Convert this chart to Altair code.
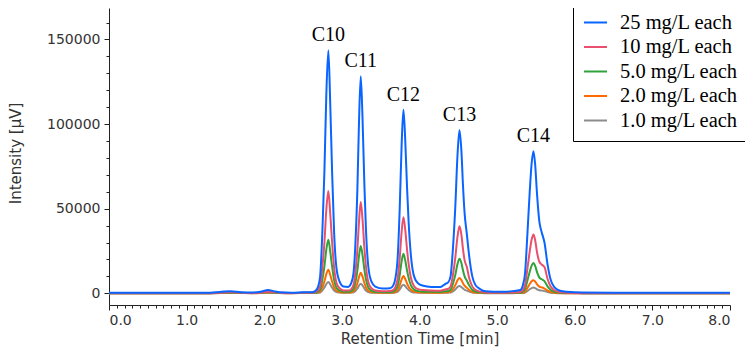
import altair as alt
import pandas as pd

# Retention time grid (min)
times = [0.00, 0.50, 1.00, 1.30, 1.45, 1.56, 1.70, 1.85, 1.95, 2.05,
         2.12, 2.20, 2.35, 2.50, 2.62, 2.66, 2.69, 2.72, 2.75, 2.775,
         2.80, 2.826, 2.85, 2.874, 2.90, 2.93, 2.97, 3.02, 3.08, 3.12,
         3.15, 3.175, 3.20, 3.22, 3.243, 3.265, 3.29, 3.31, 3.34, 3.38,
         3.43, 3.53, 3.62, 3.66, 3.69, 3.72, 3.745, 3.77, 3.793, 3.815,
         3.84, 3.86, 3.89, 3.93, 3.98, 4.05, 4.15, 4.27, 4.33, 4.37,
         4.40, 4.43, 4.46, 4.49, 4.515, 4.54, 4.56, 4.58, 4.61, 4.64,
         4.68, 4.72, 4.78, 4.85, 4.95, 5.10, 5.20, 5.30, 5.33, 5.36,
         5.39, 5.42, 5.445, 5.468, 5.49, 5.515, 5.545, 5.575, 5.61, 5.65,
         5.69, 5.74, 5.81, 5.90, 6.10, 6.50, 7.00, 7.50, 8.00]

# Intensities (µV) per standard concentration
v25 = [300, 300, 300, 400, 900, 1200, 700, 500, 900, 2000,
       1300, 600, 400, 600, 700, 1500, 3500, 10000, 38000, 72000,
       118000, 143600, 112000, 72000, 36000, 15000, 7000, 4000, 3800, 6000,
       12000, 30000, 62000, 100000, 128200, 105000, 64000, 38000, 16000, 7000,
       4000, 2800, 3000, 4500, 9000, 22000, 50000, 88000, 108500, 92000,
       62000, 42000, 22000, 10000, 6000, 4500, 3800, 3700, 5500, 6500,
       10000, 26000, 50000, 82000, 96300, 84000, 64000, 48000, 35000, 22000,
       10000, 5000, 2500, 1200, 1000, 1000, 1300, 2000, 4500, 12000,
       35000, 60000, 77000, 84000, 76000, 58000, 42000, 36000, 30000, 17000,
       8000, 3500, 1500, 900, 500, 400, 400, 400, 400]
v10 = [0, 0, 0, 100, 400, 600, 300, 200, 400, 1000,
       600, 300, 200, 300, 400, 700, 1600, 4200, 16000, 30000,
       49700, 60500, 47200, 30300, 15200, 6300, 3000, 1700, 1600, 2500,
       5000, 12600, 26100, 42100, 54000, 44200, 27000, 16000, 6700, 3000,
       1700, 1200, 1300, 1900, 3700, 9100, 20700, 36500, 45000, 38200,
       25700, 17400, 9100, 4200, 2500, 1900, 1600, 1500, 2300, 2700,
       4100, 10700, 20600, 33700, 39600, 34500, 26300, 19800, 15500, 9000,
       4100, 2100, 1000, 500, 400, 400, 500, 800, 1800, 4900,
       14500, 24800, 31800, 34700, 31400, 24000, 18500, 17000, 15500, 8500,
       4000, 1700, 700, 400, 100, 0, 0, 0, 0]
v5 = [0, 0, 0, 100, 300, 400, 200, 200, 300, 700,
      400, 200, 200, 300, 300, 400, 900, 2200, 8400, 15900,
      26000, 31700, 24700, 15900, 7900, 3300, 1600, 1000, 900, 1300,
      2600, 6500, 13500, 21800, 28000, 22900, 14000, 8300, 3500, 1600,
      900, 700, 700, 1000, 2000, 4700, 10800, 19000, 23400, 19800,
      13400, 9100, 4700, 2200, 1300, 1000, 900, 800, 1200, 1400,
      2100, 5500, 10600, 17400, 20500, 17900, 13600, 10200, 7500, 4700,
      2100, 1100, 600, 300, 300, 300, 300, 400, 1000, 2600,
      7500, 12800, 16400, 17900, 16200, 12400, 9300, 8300, 7200, 4100,
      2000, 900, 400, 200, 100, 0, 0, 0, 0]
v2 = [0, 0, 0, 100, 200, 300, 200, 100, 200, 500,
      300, 200, 100, 200, 300, 300, 500, 1000, 3700, 7000,
      11500, 14000, 10900, 7000, 3500, 1500, 800, 500, 500, 600,
      1200, 2900, 5900, 9500, 12200, 10000, 6100, 3600, 1500, 700,
      500, 400, 400, 500, 900, 2100, 4700, 8300, 10200, 8600,
      5800, 3900, 2100, 1000, 600, 500, 400, 400, 600, 700,
      1000, 2400, 4700, 7700, 9000, 7800, 6000, 4500, 3300, 2000,
      900, 500, 300, 200, 200, 200, 200, 300, 400, 1100,
      3200, 5500, 7100, 7700, 7000, 5300, 4000, 3500, 2800, 1600,
      800, 400, 200, 100, 100, 0, 0, 0, 0]
v1 = [0, 0, 0, 100, 200, 300, 200, 100, 200, 400,
      300, 200, 100, 200, 300, 300, 300, 500, 1800, 3400,
      5500, 6700, 5200, 3400, 1700, 800, 500, 300, 300, 400,
      600, 1400, 2800, 4500, 5700, 4700, 2900, 1700, 800, 400,
      300, 300, 300, 300, 500, 1000, 2300, 4100, 5100, 4300,
      2900, 2000, 1000, 500, 400, 300, 300, 300, 300, 400,
      500, 1200, 2200, 3700, 4300, 3700, 2900, 2100, 1600, 1000,
      500, 300, 200, 100, 100, 100, 100, 200, 200, 500,
      1400, 2400, 3100, 3400, 3100, 2300, 1800, 1600, 1300, 800,
      400, 200, 100, 100, 0, 0, 0, 0, 0]

series_names = ["25 mg/L each", "10 mg/L each", "5.0 mg/L each",
                "2.0 mg/L each", "1.0 mg/L each"]
series_colors = ["#0a64ff", "#e8506e", "#2ea33a", "#ff6a00", "#8c8c8c"]

peak_names = ["C10", "C11", "C12", "C13", "C14"]
peak_times = [2.826, 3.243, 3.793, 4.515, 5.468]
peak_heights = [143600, 128200, 108500, 96300, 84000]

series_values = [v25, v10, v5, v2, v1]
for vals in series_values:
    assert len(vals) == len(times)

rows = []
for name, vals in zip(series_names, series_values):
    for t, v in zip(times, vals):
        rows.append({"t": t, "v": v, "series": name})
df = pd.DataFrame(rows)

labels_df = pd.DataFrame({"t": peak_times, "v": peak_heights, "name": peak_names})

x_ticks = [round(i * 0.1, 1) for i in range(81)]
y_ticks = list(range(0, 170000, 10000))

x_axis = alt.Axis(
    values=x_ticks,
    labelExpr="datum.value % 1 === 0 ? format(datum.value, '.1f') : ''",
    tickSize={"condition": {"test": "datum.value % 1 === 0", "value": 5}, "value": 3},
    labelFlush=True,
    labelPadding=3,
    title="Retention Time [min]",
    titlePadding=4,
    grid=False,
)
y_axis = alt.Axis(
    values=y_ticks,
    labelExpr="datum.value % 50000 === 0 ? format(datum.value, 'd') : ''",
    tickSize={"condition": {"test": "datum.value % 50000 === 0", "value": 5}, "value": 3},
    labelPadding=4,
    title="Intensity [μV]",
    titleX=-94,
    titleY=145,
    titleAngle=270,
    titleAlign="center",
    titleBaseline="middle",
    grid=False,
)

x_enc = alt.X("t:Q", scale=alt.Scale(domain=[0, 8], nice=False, zero=False), axis=x_axis)
y_enc = alt.Y("v:Q", scale=alt.Scale(domain=[-6900, 168600], nice=False, zero=False), axis=y_axis)

color_enc = alt.Color(
    "series:N",
    scale=alt.Scale(domain=series_names, range=series_colors),
    legend=alt.Legend(
        title=None,
        orient="none",
        legendX=464,
        legendY=-8,
        symbolType="stroke",
        symbolSize=529,
        symbolStrokeWidth=2,
        labelFont="Liberation Serif",
        labelFontSize=20.5,
        labelColor="black",
        labelOffset=12,
        labelLimit=300,
        padding=10,
        rowPadding=1.5,
        strokeColor="black",
        fillColor="white",
        cornerRadius=0,
    ),
)

layers = []
for name in reversed(series_names):
    layers.append(
        alt.Chart(df)
        .transform_filter(alt.datum.series == name)
        .mark_line(strokeWidth=2, interpolate="monotone")
        .encode(x=x_enc, y=y_enc, color=color_enc)
    )

text_layer = alt.Chart(labels_df).mark_text(
    font="Liberation Serif", fontSize=20, baseline="bottom", dy=-5, color="black"
).encode(x=x_enc, y=y_enc, text="name:N")
layers.append(text_layer)

chart = (
    alt.layer(*layers)
    .properties(
        width=621,
        height=297,
        padding={"left": 101, "top": 0, "right": 15, "bottom": 45},
        autosize=alt.AutoSizeParams(type="none"),
    )
    .configure_view(strokeWidth=0)
    .configure_axis(
        domainColor="#222222",
        tickColor="#222222",
        labelColor="#333333",
        titleColor="#333333",
        labelFont="DejaVu Sans",
        titleFont="DejaVu Sans",
        labelFontSize=14,
        titleFontSize=15,
        titleFontWeight="normal",
    )
)

chart.save("out.html", embed_options={"renderer": "svg", "actions": False})
